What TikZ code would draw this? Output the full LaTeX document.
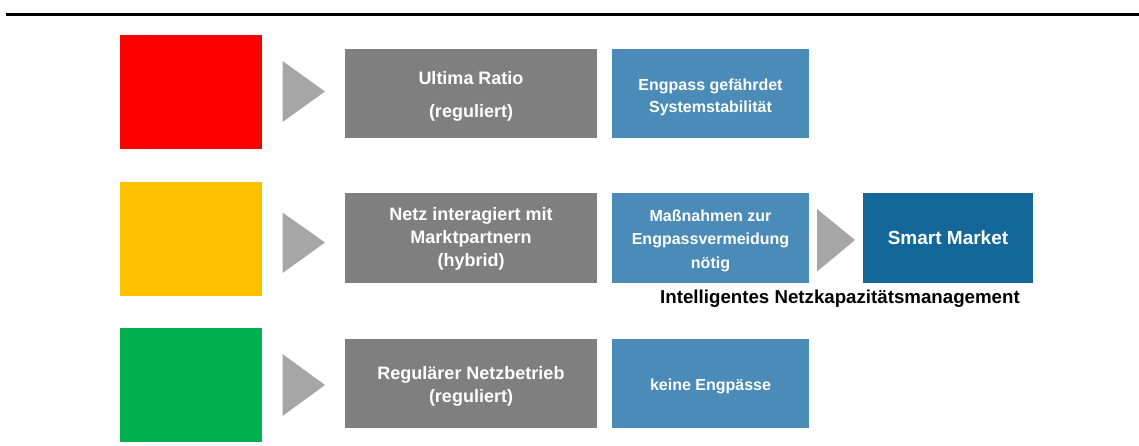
\documentclass[tikz,border=0pt]{standalone}
\usepackage{fontspec}
\setmainfont{Liberation Sans}
\definecolor{cred}{HTML}{FF0000}
\definecolor{cyellow}{HTML}{FFC000}
\definecolor{cgreen}{HTML}{00B050}
\definecolor{cgray}{HTML}{7F7F7F}
\definecolor{carrow}{HTML}{A6A6A6}
\definecolor{cblue}{HTML}{4A8BB8}
\definecolor{cdark}{HTML}{136899}
\begin{document}
\begin{tikzpicture}[x=1pt,y=-1pt,
  lamp/.style={rectangle,inner sep=0pt,minimum width=142pt,minimum height=114pt},
  graybox/.style={rectangle,fill=cgray,inner sep=0pt,minimum width=252pt,minimum height=89.5pt},
  bluebox/.style={rectangle,fill=cblue,inner sep=0pt,minimum width=197pt,minimum height=89.5pt},
  darkbox/.style={rectangle,fill=cdark,inner sep=0pt,minimum width=170pt,minimum height=90pt},
  graytext/.style={inner sep=0pt,text=white,align=center,font=\bfseries\fontsize{18}{23}\selectfont},
  bluetext/.style={inner sep=0pt,text=white,align=center,font=\bfseries\fontsize{16}{23}\selectfont},
  chevron/.style={fill=carrow}]
\useasboundingbox (0,0) rectangle (1139,445);
\draw[line width=3pt,black] (6,14) -- (1139,14);

% lamps
\node[lamp,fill=cred] (red) at (191,91.75) {};
\node[lamp,fill=cyellow] (yellow) at (191,239) {};
\node[lamp,fill=cgreen] (green) at (191,384.5) {};

% gray boxes
\node[graybox] (g1) at (471,93.5) {};
\node[graybox] (g2) at (471,238) {};
\node[graybox] (g3) at (471,383.5) {};
\node[graytext,font=\bfseries\fontsize{18}{33}\selectfont] (g1t) at ([yshift=-3pt]g1.center) {Ultima Ratio\\(reguliert)};
\node[graytext] (g2t) at ([yshift=-1pt]g2.center) {Netz interagiert mit\\Marktpartnern\\(hybrid)};
\node[graytext] (g3t) at ([yshift=-3pt]g3.center) {Regulärer Netzbetrieb\\(reguliert)};

% blue boxes
\node[bluebox] (b1) at (710.5,93.5) {};
\node[bluebox] (b2) at (710.5,238) {};
\node[bluebox] (b3) at (710.5,383.5) {};
\node[bluetext,font=\bfseries\fontsize{16}{22}\selectfont] (b1t) at ([yshift=-4pt]b1.center) {Engpass gefährdet\\Systemstabilität};
\node[bluetext,font=\bfseries\fontsize{16}{23.5}\selectfont] (b2t) at ([yshift=-2.5pt]b2.center) {Maßnahmen zur\\Engpassvermeidung\\nötig};
\node[bluetext] (b3t) at ([yshift=-3pt]b3.center) {keine Engpässe};

\node[darkbox,text=white,font=\bfseries\fontsize{19}{23}\selectfont] (sm) at (948,238) {Smart Market};
\node[anchor=base,inner sep=0pt,font=\bfseries\fontsize{18.7}{22}\selectfont] (lbl) at (840,303) {Intelligentes Netzkapazitätsmanagement};

% chevrons
\fill[chevron] (282.5,61) -- (325,91.5) -- (282.5,122) -- cycle;
\fill[chevron] (282.5,212.5) -- (325,242.5) -- (282.5,273) -- cycle;
\fill[chevron] (282.5,354) -- (325,385) -- (282.5,416) -- cycle;
\fill[chevron] (817,209) -- (855,240) -- (817,271.5) -- cycle;
\end{tikzpicture}
\end{document}
